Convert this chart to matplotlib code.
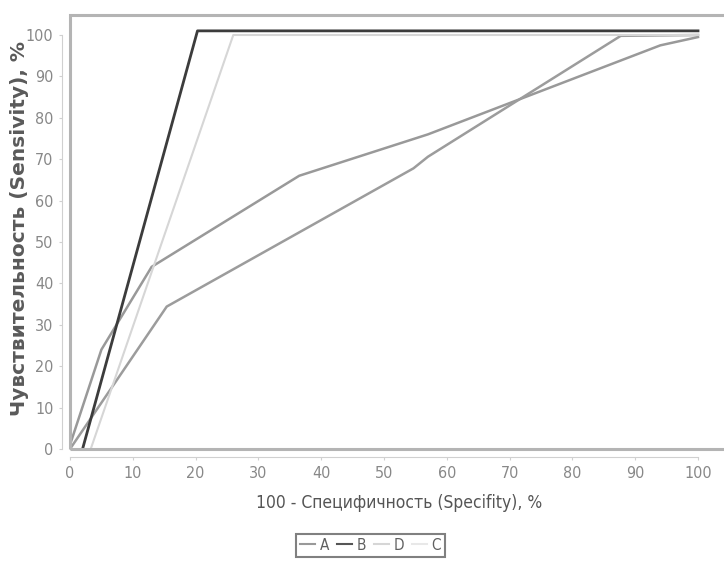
import matplotlib
matplotlib.use("Agg")
import matplotlib.pyplot as plt
from matplotlib.patches import Rectangle
from matplotlib.lines import Line2D

# ROC curves: x = 100 - specificity, y = sensitivity (%)
a_x = [0, 5.0, 13.0, 36.5, 57.0, 94.0, 100]
a_y = [1, 24.0, 44.0, 66.0, 76.0, 97.5, 99.5]
b_x = [2.0, 20.3, 100]
b_y = [0, 101, 101]
d_x = [3.3, 26.0, 100]
d_y = [0, 100, 100]
c_x = [0, 15.4, 54.7, 57.0, 87.7, 100]
c_y = [0, 34.4, 67.8, 70.6, 99.8, 100]

x_ticks = list(range(0, 101, 10))
y_ticks = list(range(0, 101, 10))

W, H = 724, 561
fig = plt.figure(figsize=(W / 100, H / 100), dpi=100)
ax = fig.add_axes([70 / W, (H - 449) / H, (745 - 70) / W, (449 - 15) / H])
ax.set_xlim(0, (745 - 70) / 6.28)
ax.set_ylim(0, (449 - 15) / 4.14)

ax.plot(a_x, a_y, color="#999999", lw=1.8, label="A", zorder=3)
ax.plot(c_x, c_y, color="#9c9c9c", lw=1.8, zorder=3)
ax.plot(d_x, d_y, color="#d6d6d6", lw=1.5, label="D", zorder=3)
ax.plot(b_x, b_y, color="#3c3c3c", lw=2.0, label="B", zorder=4)

# frame
ax.add_patch(Rectangle((0, 0), 1, 1, transform=ax.transAxes, fill=False,
                       ec="#b4b4b4", lw=2.2, clip_on=False, zorder=5))
for s in ["top", "right"]:
    ax.spines[s].set_visible(False)
for s in ["bottom", "left"]:
    ax.spines[s].set_position(("outward", 6))
    ax.spines[s].set_color("#d0d0d0")
    ax.spines[s].set_linewidth(0.8)
ax.spines["bottom"].set_bounds(0, 100)
ax.spines["left"].set_bounds(0, 100)

tick_font = dict(family="DejaVu Sans", stretch="condensed", size=11.5)
ax.set_xticks(x_ticks)
ax.set_yticks(y_ticks)
ax.set_xticklabels([str(v) for v in x_ticks], color="#888888", **tick_font)
ax.set_yticklabels([str(v) for v in y_ticks], color="#888888", **tick_font)
ax.tick_params(length=2, width=0.8, color="#d0d0d0", pad=4)

ax.set_xlabel("100 - Специфичность (Specifity), %", color="#555555",
              family="DejaVu Sans", stretch="condensed", size=12.5)
ax.xaxis.set_label_coords(0.5 * (100 / ax.get_xlim()[1]) + (399 - 70 - 0.5 * 628) / 675,
                          -(494 - 449) / 434)
ax.set_ylabel("Чувствительность (Sensivity), %", color="#5a5a5a",
              family="DejaVu Sans", fontweight="bold", size=14.5)
ax.yaxis.set_label_coords(-41 / 675, (449 - 228) / 434)

handles = [Line2D([], [], color="#999999", lw=1.5),
           Line2D([], [], color="#555555", lw=1.5),
           Line2D([], [], color="#d6d6d6", lw=1.5),
           Line2D([], [], color="#e8e8e8", lw=1.5)]
leg = fig.legend(handles, ["A", "B", "D", "C"], ncol=4, loc="upper left",
                 bbox_to_anchor=(296 / W, 1 - 534 / H), frameon=True, fancybox=False,
                 handlelength=1.0, handletextpad=0.3, columnspacing=0.5,
                 borderpad=0.25, borderaxespad=0,
                 prop={"family": "DejaVu Sans", "stretch": "condensed", "size": 11})
leg.get_frame().set_edgecolor("#606060")
leg.get_frame().set_linewidth(1.5)
for t in leg.get_texts():
    t.set_color("#606060")

fig.savefig("out.png", dpi=100, facecolor="white")
